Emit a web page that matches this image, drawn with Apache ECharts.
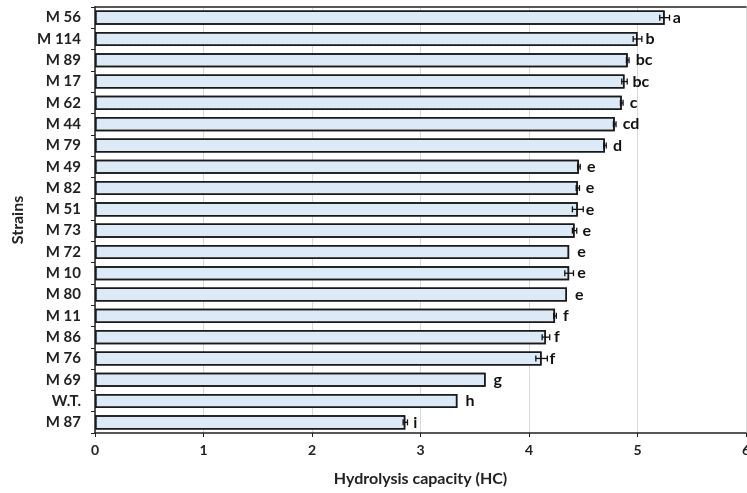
<!DOCTYPE html>
<html><head><meta charset="utf-8">
<script src="https://cdn.jsdelivr.net/npm/echarts@6/dist/echarts.min.js"></script>
<style>html,body{margin:0;padding:0;background:#fff}#c{width:747px;height:493px}</style>
</head><body><div id="c"></div>
<script>
var strains = ['M 56','M 114','M 89','M 17','M 62','M 44','M 79','M 49','M 82','M 51','M 73','M 72','M 10','M 80','M 11','M 86','M 76','M 69','W.T.','M 87'];
var hc = [5.25,5.00,4.91,4.88,4.855,4.79,4.70,4.46,4.45,4.45,4.42,4.37,4.37,4.35,4.24,4.156,4.116,3.60,3.34,2.86];
var err = [0.045,0.04,0.012,0.025,0.012,0.012,0.012,0.012,0.015,0.05,0.02,0,0.04,0,0.012,0.035,0.053,0,0,0.02];
var letters = ['a','b','bc','bc','c','cd','d','e','e','e','e','e','e','e','f','f','f','g','h','i'];
var xTicks = [0,1,2,3,4,5,6];

var FONT = 'Lato';
var chart = echarts.init(document.getElementById('c'));
var errData = hc.map(function(v,i){return [i, v, err[i]];});
chart.setOption({
  animation:false,
  grid:{left:95,right:1,top:7,bottom:60,outerBoundsMode:'none',containLabel:false},
  xAxis:[{
    type:'value',min:xTicks[0],max:xTicks[xTicks.length-1],interval:1,
    name:'Hydrolysis capacity (HC)',nameLocation:'middle',nameGap:38,
    nameTextStyle:{fontFamily:FONT,fontWeight:'bold',fontSize:16,color:'#222'},
    axisLine:{show:true,lineStyle:{color:'#222',width:1.5}},
    axisTick:{show:true,length:4,lineStyle:{color:'#222'}},
    axisLabel:{fontFamily:FONT,fontWeight:'bold',fontSize:14,color:'#222',margin:10},
    splitLine:{show:true,lineStyle:{color:'#d9d9d9',width:1}}
  },{
    type:'value',position:'top',min:0,max:6,
    axisLine:{show:true,lineStyle:{color:'#222',width:1.5}},
    axisTick:{show:false},axisLabel:{show:false},splitLine:{show:false}
  }],
  yAxis:{
    type:'category',data:strains,inverse:true,
    name:'Strains',nameLocation:'middle',nameGap:68,
    nameTextStyle:{fontFamily:FONT,fontWeight:'bold',fontSize:16,color:'#222'},
    axisLine:{show:true,lineStyle:{color:'#222',width:1.5}},
    axisTick:{show:true,length:4,alignWithLabel:false,lineStyle:{color:'#222'}},
    axisLabel:{fontFamily:FONT,fontWeight:'bold',fontSize:15,color:'#222',margin:14}
  },
  series:[{
    type:'bar',data:hc,barCategoryGap:'34%',
    itemStyle:{color:'#dce9f7',borderColor:'#1a1a1a',borderWidth:1.5,
      decal:{symbol:'rect',symbolSize:0.5,dashArrayX:[1,3],dashArrayY:[1,3],color:'rgba(255,255,255,0.7)'}},
    label:{show:true,position:'right',distance:8,
      formatter:function(p){return letters[p.dataIndex];},
      fontFamily:FONT,fontWeight:'bold',fontSize:16,color:'#111'}
  },{
    type:'custom',data:errData,z:5,
    encode:{x:1,y:0},
    renderItem:function(params,api){
      var i=api.value(0),v=api.value(1),e=api.value(2);
      if(!e) return null;
      var p1=api.coord([v-e,i]),p2=api.coord([v+e,i]);
      var h=3;
      var st={stroke:'#111',lineWidth:1.3};
      return {type:'group',children:[
        {type:'line',shape:{x1:p1[0],y1:p1[1],x2:p2[0],y2:p2[1]},style:st},
        {type:'line',shape:{x1:p1[0],y1:p1[1]-h,x2:p1[0],y2:p1[1]+h},style:st},
        {type:'line',shape:{x1:p2[0],y1:p2[1]-h,x2:p2[0],y2:p2[1]+h},style:st}
      ]};
    }
  }]
});
</script></body></html>
